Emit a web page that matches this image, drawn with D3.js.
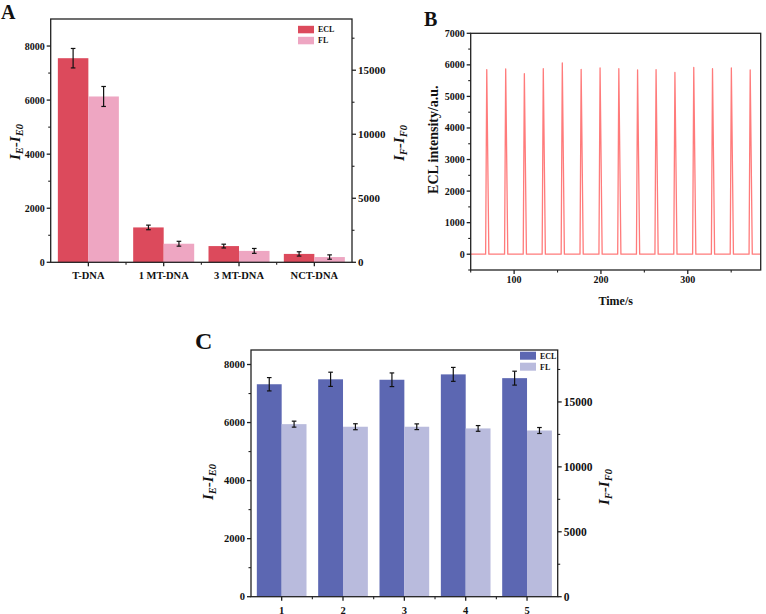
<!DOCTYPE html>
<html><head><meta charset="utf-8">
<script src="https://cdn.jsdelivr.net/npm/d3@7"></script>
<style>
html,body{margin:0;padding:0;background:#fff;}
svg{display:block;}
text{font-family:"Liberation Serif","Times New Roman",serif;font-weight:bold;fill:#111;}
</style></head>
<body>
<svg id="chart" width="766" height="614"></svg>
<script>
// ---------- data ----------
const catsA = ["T-DNA", "1 MT-DNA", "3 MT-DNA", "NCT-DNA"];
const eclA = [7550, 1290, 600, 310];
const eclErrA = [360, 85, 70, 80];
const flA = [12950, 1450, 890, 410];
const flErrA = [780, 190, 190, 170];
const leftTicksA = [0, 2000, 4000, 6000, 8000];
const rightTicksA = [0, 5000, 10000, 15000];

const peakTimes = [68.5, 90.3, 111.8, 133.6, 155.5, 177.2, 199, 220.6, 242.2, 263.5, 285.2, 306.9, 328.5, 350.2, 371.9];
const peakHeights = [5850, 5870, 5720, 5880, 6060, 5860, 5900, 5880, 5840, 5850, 5760, 5920, 5880, 5900, 5840];
const yTicksB = [0, 1000, 2000, 3000, 4000, 5000, 6000, 7000];
const xTicksB = [100, 200, 300];

const catsC = ["1", "2", "3", "4", "5"];
const eclC = [7320, 7490, 7475, 7660, 7530];
const eclErrC = [230, 245, 235, 240, 240];
const flC = [13290, 13090, 13090, 12960, 12800];
const flErrC = [230, 230, 220, 220, 230];
const leftTicksC = [0, 2000, 4000, 6000, 8000];
const rightTicksC = [0, 5000, 10000, 15000];

const svg = d3.select("#chart");
const AX = "#222";

function frame(g, l, r, t, b) {
  g.append("rect").attr("x", l).attr("y", t).attr("width", r - l).attr("height", b - t)
    .attr("fill", "none").attr("stroke", AX).attr("stroke-width", 1.3);
}
function yAxis(g, scale, x, ticks, minors, side, fs, fmt) {
  const dir = side === "left" ? -1 : 1;
  ticks.forEach(v => {
    const y = scale(v);
    g.append("line").attr("x1", x).attr("x2", x + dir * 4).attr("y1", y).attr("y2", y).attr("stroke", AX).attr("stroke-width", 1.3);
    g.append("text").attr("x", x + dir * 6).attr("y", y).attr("dy", "0.35em")
      .attr("text-anchor", side === "left" ? "end" : "start").style("font-size", fs + "px").text(fmt ? fmt(v) : v);
  });
  minors.forEach(v => {
    const y = scale(v);
    g.append("line").attr("x1", x).attr("x2", x + dir * 2.5).attr("y1", y).attr("y2", y).attr("stroke", AX).attr("stroke-width", 1.1);
  });
}
function sublabel(g, x, y, rot, fs, sub1, sub2) {
  const t = g.append("text").attr("transform", `translate(${x},${y}) rotate(${rot})`)
    .attr("text-anchor", "middle").style("font-size", fs + "px").style("font-style", "italic");
  t.append("tspan").text("I");
  t.append("tspan").attr("baseline-shift", "-25%").style("font-size", (fs * 0.7) + "px").text(sub1);
  t.append("tspan").style("font-style", "normal").text("-");
  t.append("tspan").text("I");
  t.append("tspan").attr("baseline-shift", "-25%").style("font-size", (fs * 0.7) + "px").text(sub2);
}
function minorsBetween(ticks) {
  const out = [];
  for (let i = 0; i < ticks.length - 1; i++) out.push((ticks[i] + ticks[i + 1]) / 2);
  return out;
}

function barPanel(o) {
  const g = svg.append("g");
  const x = d3.scalePoint().domain(o.cats).range([o.l, o.r]).padding(0.5);
  const yL = d3.scaleLinear().domain(o.leftDomain).range([o.b, o.t]);
  const yR = d3.scaleLinear().domain(o.rightDomain).range([o.b, o.t]);
  const bw = x.step() * 0.405;
  // bars
  o.cats.forEach((c, i) => {
    const cx = x(c);
    g.append("rect").attr("x", cx - bw).attr("y", yL(o.ecl[i])).attr("width", bw).attr("height", yL(0) - yL(o.ecl[i])).attr("fill", o.c1);
    g.append("rect").attr("x", cx).attr("y", yR(o.fl[i])).attr("width", bw).attr("height", yR(0) - yR(o.fl[i])).attr("fill", o.c2);
  });
  // error bars
  const eb = (cx, s, v, e) => {
    const cap = 2.3;
    g.append("line").attr("x1", cx).attr("x2", cx).attr("y1", s(v + e)).attr("y2", s(v - e)).attr("stroke", "#111").attr("stroke-width", 1.2);
    [v + e, v - e].forEach(w => g.append("line").attr("x1", cx - cap).attr("x2", cx + cap).attr("y1", s(w)).attr("y2", s(w)).attr("stroke", "#111").attr("stroke-width", 1.2));
  };
  o.cats.forEach((c, i) => {
    eb(x(c) - bw / 2, yL, o.ecl[i], o.eclErr[i]);
    eb(x(c) + bw / 2, yR, o.fl[i], o.flErr[i]);
  });
  frame(g, o.l, o.r, o.t, o.b);
  yAxis(g, yL, o.l, o.leftTicks, minorsBetween(o.leftTicks).concat(o.leftExtraMinor), "left", o.fsL);
  yAxis(g, yR, o.r, o.rightTicks, minorsBetween(o.rightTicks).concat(o.rightExtraMinor), "right", o.fsR);
  // x ticks
  o.cats.forEach((c, i) => {
    const cx = x(c);
    g.append("line").attr("x1", cx).attr("x2", cx).attr("y1", o.b).attr("y2", o.b + 4).attr("stroke", AX).attr("stroke-width", 1.3);
    g.append("text").attr("x", cx).attr("y", o.xLabelY).attr("text-anchor", "middle").style("font-size", o.fsX + "px").text(c);
    if (i < o.cats.length - 1) {
      const mx = (cx + x(o.cats[i + 1])) / 2;
      g.append("line").attr("x1", mx).attr("x2", mx).attr("y1", o.b).attr("y2", o.b + 2.5).attr("stroke", AX).attr("stroke-width", 1.1);
    }
  });
  // legend
  const lg = g.append("g");
  [["ECL", o.c1], ["FL", o.c2]].forEach((d, i) => {
    const y0 = o.legY + i * o.legGap;
    lg.append("rect").attr("x", o.legX).attr("y", y0).attr("width", 16).attr("height", o.legH).attr("fill", d[1]);
    lg.append("text").attr("x", o.legX + 20).attr("y", y0 + o.legH / 2).attr("dy", "0.35em").style("font-size", "8px").text(d[0]);
  });
  sublabel(g, o.ylabX, o.ylabY, -90, 15, "E", "E0");
  sublabel(g, o.y2labX, o.y2labY, -90, 15, "F", "F0");
  g.append("text").attr("x", o.letterX).attr("y", o.letterY).style("font-size", o.letterFs + "px").text(o.letter);
}

barPanel({
  cats: catsA, ecl: eclA, eclErr: eclErrA, fl: flA, flErr: flErrA,
  l: 50.7, r: 352, t: 19, b: 262.3,
  leftDomain: [0, 9000], rightDomain: [0, 19000],
  leftTicks: leftTicksA, rightTicks: rightTicksA,
  leftExtraMinor: [], rightExtraMinor: [17500],
  c1: "#dc4a5c", c2: "#eea6c2",
  fsL: 10, fsR: 11, fsX: 10.5, xLabelY: 279,
  legX: 298, legY: 25.8, legGap: 11, legH: 7.5,
  ylabX: 20, ylabY: 142, y2labX: 404, y2labY: 143,
  letter: "A", letterX: 1, letterY: 19, letterFs: 20
});

barPanel({
  cats: catsC, ecl: eclC, eclErr: eclErrC, fl: flC, flErr: flErrC,
  l: 251, r: 557.7, t: 350, b: 596.7,
  leftDomain: [0, 8500], rightDomain: [0, 19000],
  leftTicks: leftTicksC, rightTicks: rightTicksC,
  leftExtraMinor: [], rightExtraMinor: [17500],
  c1: "#5c67b2", c2: "#b9bbdd",
  fsL: 10.5, fsR: 11.5, fsX: 10.5, xLabelY: 613.5,
  legX: 520, legY: 351.7, legGap: 11, legH: 8,
  ylabX: 213, ylabY: 482, y2labX: 609, y2labY: 487,
  letter: "C", letterX: 195, letterY: 349, letterFs: 24
});

// ---------- Panel B ----------
(function () {
  const g = svg.append("g");
  const l = 470.7, r = 760.7, t = 33.3, b = 270;
  const x = d3.scaleLinear().domain([50, 384]).range([l, r]);
  const y = d3.scaleLinear().domain([-500, 7000]).range([b, t]);
  const pts = [[50, 0]];
  peakTimes.forEach((pt, i) => {
    pts.push([pt - 1.3, 0], [pt, peakHeights[i]], [pt + 2.4, 0]);
  });
  pts.push([384, 0]);
  const line = d3.line().x(d => x(d[0])).y(d => y(d[1]));
  g.append("path").attr("d", line(pts)).attr("fill", "none").attr("stroke", "#ff7b7b").attr("stroke-width", 1.3).attr("stroke-linejoin", "round");
  frame(g, l, r, t, b);
  yAxis(g, y, l, yTicksB, minorsBetween(yTicksB).concat([-500]), "left", 10);
  xTicksB.forEach(v => {
    g.append("line").attr("x1", x(v)).attr("x2", x(v)).attr("y1", b).attr("y2", b + 4).attr("stroke", AX).attr("stroke-width", 1.3);
    g.append("text").attr("x", x(v)).attr("y", 282.5).attr("text-anchor", "middle").style("font-size", "10px").text(v);
  });
  [50, 150, 250, 350].forEach(v => {
    g.append("line").attr("x1", x(v)).attr("x2", x(v)).attr("y1", b).attr("y2", b + 2.5).attr("stroke", AX).attr("stroke-width", 1.1);
  });
  g.append("text").attr("x", (l + r) / 2).attr("y", 305).attr("text-anchor", "middle").style("font-size", "12px").text("Time/s");
  g.append("text").attr("transform", `translate(438,${(t + b) / 2 - 12}) rotate(-90)`).attr("text-anchor", "middle").style("font-size", "14px").text("ECL intensity/a.u.");
  g.append("text").attr("x", 424).attr("y", 26).style("font-size", "20px").text("B");
})();
</script>
</body></html>
